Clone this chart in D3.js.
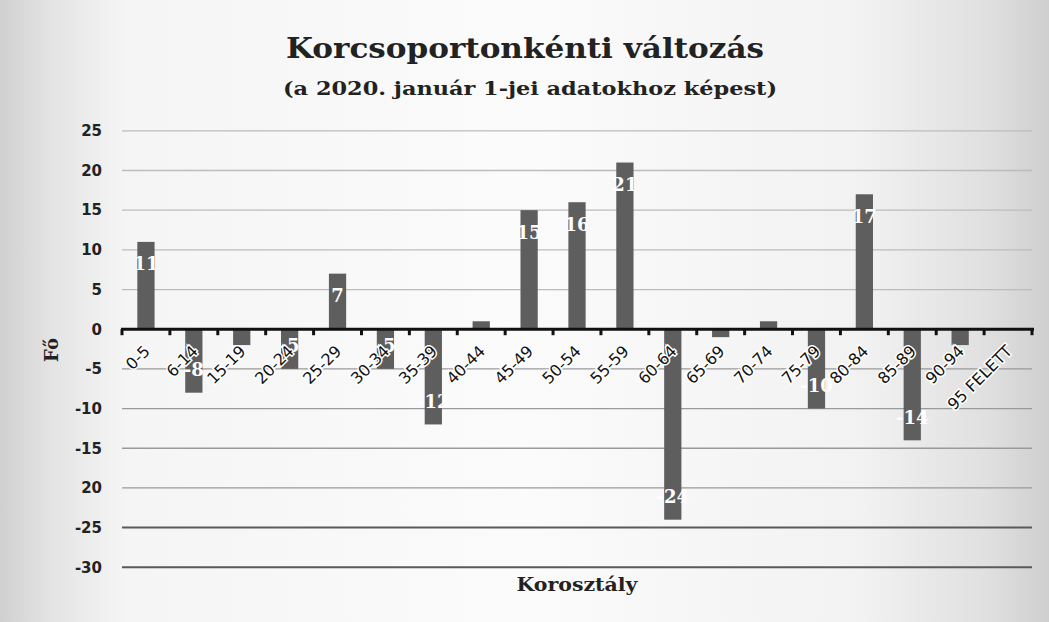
<!DOCTYPE html>
<html><head><meta charset="utf-8">
<script src="https://cdn.jsdelivr.net/npm/d3@7"></script>
<style>body{margin:0;background:#e2e2e2;}svg{display:block;}</style>
</head><body>
<script>
const categories = ["0-5","6-14","15-19","20-24","25-29","30-34","35-39","40-44","45-49","50-54","55-59","60-64","65-69","70-74","75-79","80-84","85-89","90-94","95 FELETT"];
const values = [11,-8,-2,-5,7,-5,-12,1,15,16,21,-24,-1,1,-10,17,-14,-2,0];
const yTicks = [25,20,15,10,5,0,-5,-10,-15,-20,-25,-30];
const yTickLabels = ["25","20","15","10","5","0","-5","-10","-15","20","-25","-30"];
const title = "Korcsoportonkénti változás";
const subtitle = "(a 2020. január 1-jei adatokhoz képest)";
const xTitle = "Korosztály";
const yTitle = "Fő";

const W = 1049, H = 622;
const svg = d3.select("body").append("svg").attr("width", W).attr("height", H);
const defs = svg.append("defs");
const g1 = defs.append("linearGradient").attr("id","bg").attr("x1","0").attr("x2","1").attr("y1","0").attr("y2","0");
[[0,"#d0d0d0"],[0.05,"#e4e4e4"],[0.12,"#f5f5f5"],[0.5,"#fbfbfb"],[0.82,"#f2f2f2"],[0.94,"#e0e0e0"],[1,"#cfcfcf"]].forEach(([o,c])=>g1.append("stop").attr("offset",o).attr("stop-color",c));
svg.append("rect").attr("width",W).attr("height",H).attr("fill","url(#bg)");

const x = d3.scaleBand().domain(categories).range([122, 1032]).paddingInner(0.64).paddingOuter(0.32);
const y = d3.scaleLinear().domain([-30, 25]).range([567.3, 130.8]);

const rows = categories.map((c, i) => ({ cat: c, v: values[i] }));

// gridlines
const gridColor = v => v <= -25 ? "#5a5a5a" : (v < 0 ? "#9a9a9a" : "#bcbcbc");
svg.append("g").selectAll("line").data(yTicks.filter(v => v !== 0)).join("line")
  .attr("x1", 122).attr("x2", 1032)
  .attr("y1", d => y(d)).attr("y2", d => y(d))
  .attr("stroke", gridColor).attr("stroke-width", d => d <= -25 ? 2 : 1.3);

// y-axis labels
const yAxis = d3.axisLeft(y).tickValues(yTicks).tickSize(0).tickPadding(0)
  .tickFormat((d,i) => yTickLabels[i]);
const ya = svg.append("g").attr("transform", "translate(102,0)").call(yAxis);
ya.select(".domain").remove();
ya.selectAll("text").attr("font-family","'DejaVu Sans', sans-serif").attr("font-weight","bold")
  .attr("font-size", 15).attr("fill","#222");

// bars
svg.append("g").selectAll("rect").data(rows).join("rect")
  .attr("x", d => x(d.cat))
  .attr("width", x.bandwidth())
  .attr("y", d => y(Math.max(0, d.v)))
  .attr("height", d => Math.abs(y(d.v) - y(0)))
  .attr("fill", "#5e5e5e");

// data labels (white, inside end; on tiny bars they are invisible in the source)
svg.append("g").selectAll("text").data(rows.filter(d => Math.abs(d.v) >= 3)).join("text")
  .attr("x", d => x(d.cat) + x.bandwidth()/2)
  .attr("y", d => d.v > 0 ? y(d.v) + 22 : y(d.v) - 23)
  .attr("dy", "0.36em")
  .attr("text-anchor","middle")
  .attr("font-family","'DejaVu Serif', serif").attr("font-weight","bold").attr("font-size", 18)
  .attr("fill","#ffffff")
  .text(d => d.v);

// x axis at zero
const xAxis = d3.axisBottom(x).tickSize(0).tickFormat(d => d);
const xa = svg.append("g").attr("transform", `translate(0,${y(0)})`).call(xAxis);
xa.select(".domain").remove();
xa.selectAll("text")
  .attr("font-family","'DejaVu Sans', sans-serif").attr("font-size", 16).attr("fill","#111")
  .attr("text-anchor","end")
  .attr("stroke","#ffffff").attr("stroke-width",3).attr("paint-order","stroke")
  .attr("transform", "translate(5,23) rotate(-45)")
  .attr("dy","0").attr("y", 0).attr("x", 0);
// axis line and boundary ticks
const step = x.step();
const bounds = d3.range(categories.length + 1).map(i => 122 + i * step);
svg.append("line").attr("x1",121).attr("x2",1034).attr("y1",y(0)).attr("y2",y(0))
  .attr("stroke","#111").attr("stroke-width",3);
svg.append("g").selectAll("line").data(bounds).join("line")
  .attr("x1", d => d).attr("x2", d => d).attr("y1", y(0)).attr("y2", y(0) + 6)
  .attr("stroke","#111").attr("stroke-width",3);

// titles
svg.append("text").attr("x", 525).attr("y", 58).attr("text-anchor","middle")
  .attr("font-family","'DejaVu Serif', serif").attr("font-weight","bold").attr("font-size", 28)
  .attr("fill","#222").attr("textLength", 478).attr("lengthAdjust","spacingAndGlyphs").text(title);
svg.append("text").attr("x", 530).attr("y", 95).attr("text-anchor","middle")
  .attr("font-family","'DejaVu Serif', serif").attr("font-weight","bold").attr("font-size", 19)
  .attr("fill","#222").attr("textLength", 494).attr("lengthAdjust","spacingAndGlyphs").text(subtitle);
svg.append("text").attr("x", 577).attr("y", 591).attr("text-anchor","middle")
  .attr("font-family","'DejaVu Serif', serif").attr("font-weight","bold").attr("font-size", 18)
  .attr("fill","#222").attr("textLength", 121).attr("lengthAdjust","spacingAndGlyphs").text(xTitle);
svg.append("text").attr("transform","translate(52,350) rotate(-90)").attr("text-anchor","middle")
  .attr("dy","0.35em")
  .attr("font-family","'DejaVu Serif', serif").attr("font-weight","bold").attr("font-size", 18)
  .attr("fill","#222").text(yTitle);
</script>
</body></html>
